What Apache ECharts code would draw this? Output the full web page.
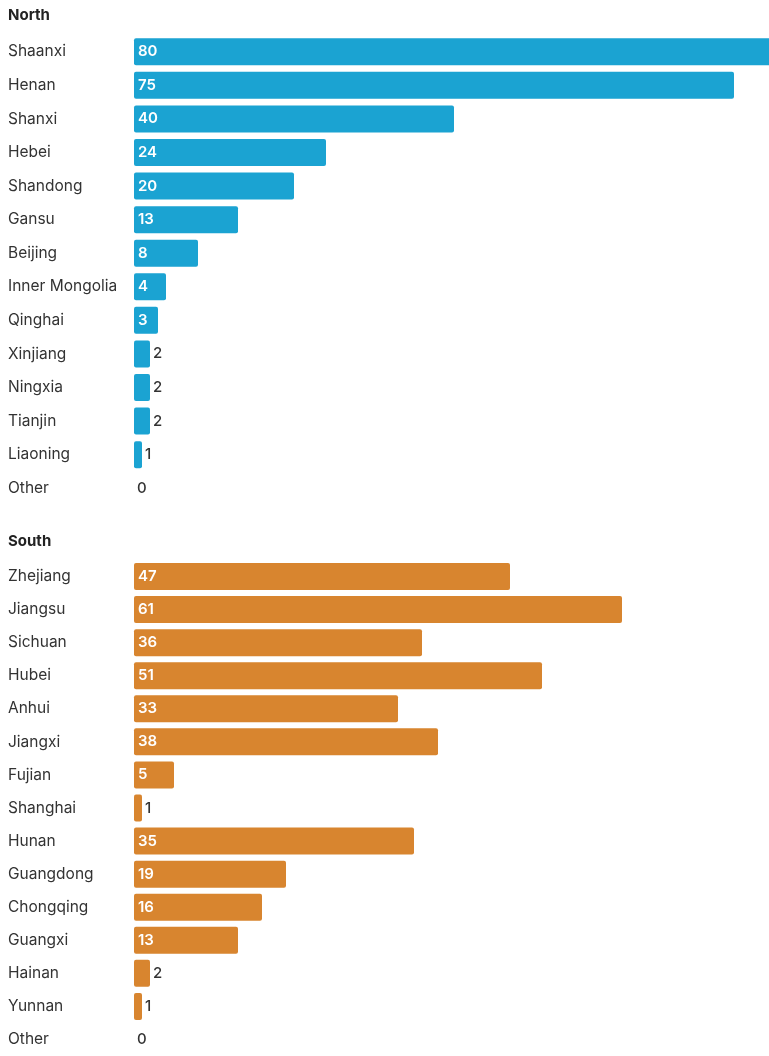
<!DOCTYPE html>
<html><head><meta charset="utf-8">
<script src="https://cdn.jsdelivr.net/npm/echarts@6/dist/echarts.min.js"></script>
<style>html,body{margin:0;padding:0;background:#fff;overflow:hidden}#c{width:774px;height:1056px}</style>
</head><body><div id="c"></div>
<script>
const northCategories = ["Shaanxi","Henan","Shanxi","Hebei","Shandong","Gansu","Beijing","Inner Mongolia","Qinghai","Xinjiang","Ningxia","Tianjin","Liaoning","Other"];
const northValues = [80,75,40,24,20,13,8,4,3,2,2,2,1,0];
const southCategories = ["Zhejiang","Jiangsu","Sichuan","Hubei","Anhui","Jiangxi","Fujian","Shanghai","Hunan","Guangdong","Chongqing","Guangxi","Hainan","Yunnan","Other"];
const southValues = [47,61,36,51,33,38,5,1,35,19,16,13,2,1,0];

const FONT = 'Inter';
function mkData(vals){
  return vals.map(v => ({
    value: v,
    label: v >= 3
      ? {position:'insideLeft', distance:4, color:'#fff', fontWeight:600}
      : {position:'right', distance:3, color:'#333', fontWeight:500}
  }));
}
const chart = echarts.init(document.getElementById('c'), null, {renderer:'canvas'});
const yAxisBase = {
  type:'category', inverse:true,
  axisLine:{show:false}, axisTick:{show:false},
  axisLabel:{align:'left', margin:126, color:'#333', fontFamily:FONT, fontSize:15.5}
};
const xAxisBase = {type:'value', min:0, max:80, show:false, splitLine:{show:false}};
chart.setOption({
  animation:false,
  title:[
    {text:'North', left:3, top:3, textStyle:{fontFamily:FONT, fontSize:15, fontWeight:'bold', color:'#222'}},
    {text:'South', left:3, top:529, textStyle:{fontFamily:FONT, fontSize:15, fontWeight:'bold', color:'#222'}}
  ],
  grid:[
    {left:134, top:35, right:0, height:470},
    {left:134, top:560, right:0, height:505}
  ],
  xAxis:[Object.assign({gridIndex:0}, xAxisBase), Object.assign({gridIndex:1}, xAxisBase)],
  yAxis:[
    Object.assign({gridIndex:0, data:northCategories}, yAxisBase),
    Object.assign({gridIndex:1, data:southCategories}, yAxisBase)
  ],
  series:[
    {type:'bar', xAxisIndex:0, yAxisIndex:0, barWidth:27, data:mkData(northValues),
     itemStyle:{color:'#1ba3d2', borderRadius:2},
     label:{show:true, fontFamily:FONT, fontSize:15}},
    {type:'bar', xAxisIndex:1, yAxisIndex:1, barWidth:27, data:mkData(southValues),
     itemStyle:{color:'#d8852f', borderRadius:2},
     label:{show:true, fontFamily:FONT, fontSize:15}}
  ]
});
</script></body></html>
